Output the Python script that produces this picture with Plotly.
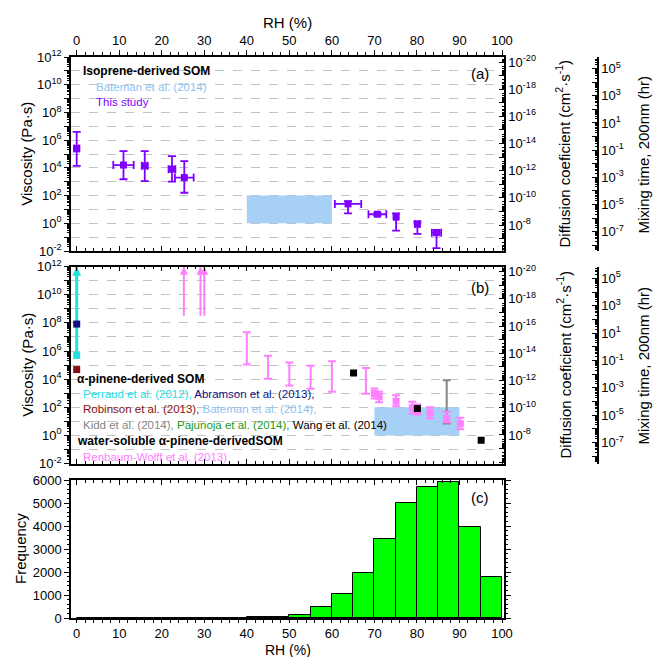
import plotly.graph_objects as go

# ---------------- data ----------------
# panel (a): isoprene-derived SOM, this study
rh_a = [0, 11, 16, 22.4, 25.3, 63.8, 70.7, 75.1, 80.1, 84.6]
rh_a_err = [0.6, 2.4, 0.7, 0.8, 2.2, 3.1, 2.1, 0.5, 0.5, 1.1]
visc_a = [2.5e5, 1.6e4, 1.4e4, 8.1e3, 2.0e3, 25, 4.5, 3.0, 0.89, 0.21]
visc_a_hi = [4.0e6, 1.6e5, 1.6e5, 7.1e4, 3.1e4, 40, 5.6, 5.2, 1.3, 0.33]
visc_a_lo = [1.4e4, 1.5e3, 1.1e3, 1.0e3, 160, 5.2, 3.6, 0.30, 0.17, 0.016]
bateman_a_rh = [40, 60]
bateman_a_visc = [1, 100]

# panel (b): alpha-pinene-derived SOM
perraud_rh = [0]
perraud_lo = [4.9e5]
perraud_top = [1e12]
abramson_rh = [0]
abramson_visc = [8.3e7]
robinson_rh = [0]
robinson_visc = [4.8e4]
bateman_b_rh = [70, 90]
bateman_b_visc = [1, 100]
kidd_rh = [87]
kidd_visc = [240]
kidd_hi = [8.3e3]
kidd_lo = [7]
wang_rh = [65.1, 80.1, 95.1]
wang_visc = [2.75e4, 81, 0.45]
# Renbaum-Wolff (water-soluble)
rw_arrow_rh = [25.2, 29.1, 30.0]
rw_arrow_lo = [3.2e8, 3.2e8, 3.2e8]
rw_arrow_top = [1e12, 1e12, 1e12]
rw_bar_rh = [40, 45, 50, 55, 60, 68]
rw_bar_c = [1.5e6, 7.0e4, 2.3e4, 1.4e4, 1.5e4, 7.6e3]
rw_bar_hi = [2.2e7, 4.7e5, 1.5e5, 9.0e4, 1.9e5, 6.3e4]
rw_bar_lo = [1.1e5, 1.05e4, 3.5e3, 2.1e3, 1.25e3, 9.0e2]
rw_pt_rh = [70, 71.1, 75.1, 78.9, 80.1, 83.1, 87, 90.2]
rw_pt_c = [955, 550, 269, 91, 62, 41, 16, 6.8]
rw_pt_hi = [2140, 1260, 724, 245, 158, 100, 48, 18]
rw_pt_lo = [417, 229, 120, 35, 31, 16, 8.7, 2.7]

# panel (c): RH frequency histogram (5 % bins)
bin_left = [0, 5, 10, 15, 20, 25, 30, 35, 40, 45, 50, 55, 60, 65, 70, 75, 80, 85, 90, 95]
bin_width = 5
freq = [0, 0, 1, 2, 3, 5, 8, 15, 25, 55, 140, 470, 1050, 1950, 3420, 4990, 5680, 5900, 3950, 1780]

rh_ticks = [0, 10, 20, 30, 40, 50, 60, 70, 80, 90, 100]
visc_exp = list(range(-2, 13))
diff_exp = list(range(-21, -4))
mix_exp = list(range(-9, 7))
freq_ticks = [0, 1000, 2000, 3000, 4000, 5000, 6000]

# ---------------- colours ----------------
PURPLE = '#7f00ff'
LBLUE = '#8cc3f3'
RECT = 'rgba(160,204,245,0.92)'
CYAN = '#22e0e0'
NAVY = '#101080'
DRED = '#861010'
GRAY = '#858585'
GREEN = '#1a9a1a'
PINK = '#ff80ff'
FONT = 'Liberation Sans, Arial, sans-serif'

W, H = 653, 657
L, R, T, B = 71, 55, 57, 39
PW, PH = W - L - R, H - T - B
XD = [0, 433 / PW]


def P(px, py):
    return (px - L) / PW, (H - B - py) / PH


ya_dom = [P(0, 251)[1], 1.0]
yb_dom = [P(0, 463.5)[1], P(0, 266.7)[1]]
yc_dom = [0.0, P(0, 480)[1]]

fig = go.Figure()


def errs(c, hi, lo):
    return [h - v for h, v in zip(hi, c)], [v - l for v, l in zip(c, lo)]

# ---- panel (a)
fig.add_trace(go.Scatter(
    x=[bateman_a_rh[0], bateman_a_rh[1], bateman_a_rh[1], bateman_a_rh[0], bateman_a_rh[0]],
    y=[bateman_a_visc[0], bateman_a_visc[0], bateman_a_visc[1], bateman_a_visc[1], bateman_a_visc[0]],
    fill='toself', fillcolor=RECT, mode='lines', line=dict(width=0),
    xaxis='x', yaxis='y', showlegend=False, hoverinfo='skip'))
pa, ma = errs(visc_a, visc_a_hi, visc_a_lo)
fig.add_trace(go.Scatter(
    x=rh_a, y=visc_a, mode='markers',
    marker=dict(symbol='square', size=7, color=PURPLE),
    error_y=dict(type='data', symmetric=False, array=pa, arrayminus=ma,
                 color=PURPLE, thickness=1.8, width=4),
    error_x=dict(type='data', array=rh_a_err, color=PURPLE, thickness=1.8, width=4),
    xaxis='x', yaxis='y', showlegend=False, cliponaxis=False))

# ---- panel (b)
fig.add_trace(go.Scatter(
    x=[bateman_b_rh[0], bateman_b_rh[1], bateman_b_rh[1], bateman_b_rh[0], bateman_b_rh[0]],
    y=[bateman_b_visc[0], bateman_b_visc[0], bateman_b_visc[1], bateman_b_visc[1], bateman_b_visc[0]],
    fill='toself', fillcolor=RECT, mode='lines', line=dict(width=0),
    xaxis='x2', yaxis='y2', showlegend=False, hoverinfo='skip'))

# Perraud arrow
for rh, lo, top in zip(perraud_rh, perraud_lo, perraud_top):
    fig.add_trace(go.Scatter(x=[rh, rh], y=[lo, top], mode='lines',
                             line=dict(color=CYAN, width=3), xaxis='x2', yaxis='y2',
                             showlegend=False))
fig.add_trace(go.Scatter(x=perraud_rh, y=perraud_top, mode='markers',
                         marker=dict(symbol='arrow-up', size=9, color=CYAN),
                         xaxis='x2', yaxis='y2', showlegend=False, cliponaxis=False))
fig.add_trace(go.Scatter(x=perraud_rh, y=perraud_lo, mode='markers',
                         marker=dict(symbol='square', size=7, color=CYAN),
                         xaxis='x2', yaxis='y2', showlegend=False, cliponaxis=False))
fig.add_trace(go.Scatter(x=abramson_rh, y=abramson_visc, mode='markers',
                         marker=dict(symbol='square', size=7, color=NAVY),
                         xaxis='x2', yaxis='y2', showlegend=False, cliponaxis=False))
fig.add_trace(go.Scatter(x=robinson_rh, y=robinson_visc, mode='markers',
                         marker=dict(symbol='square', size=7, color=DRED),
                         xaxis='x2', yaxis='y2', showlegend=False, cliponaxis=False))

# Renbaum-Wolff arrows
for rh, lo, top in zip(rw_arrow_rh, rw_arrow_lo, rw_arrow_top):
    fig.add_trace(go.Scatter(x=[rh, rh], y=[lo, top], mode='lines',
                             line=dict(color=PINK, width=2), xaxis='x2', yaxis='y2',
                             showlegend=False))
fig.add_trace(go.Scatter(x=rw_arrow_rh, y=rw_arrow_top, mode='markers',
                         marker=dict(symbol='arrow-up', size=8, color=PINK),
                         xaxis='x2', yaxis='y2', showlegend=False, cliponaxis=False))
# Renbaum-Wolff ranges
pb, mb = errs(rw_bar_c, rw_bar_hi, rw_bar_lo)
fig.add_trace(go.Scatter(x=rw_bar_rh, y=rw_bar_c, mode='markers',
                         marker=dict(symbol='circle', size=2, color=PINK),
                         error_y=dict(type='data', symmetric=False, array=pb, arrayminus=mb,
                                      color=PINK, thickness=2, width=4),
                         xaxis='x2', yaxis='y2', showlegend=False))
# Kidd
pk, mk = errs(kidd_visc, kidd_hi, kidd_lo)
fig.add_trace(go.Scatter(x=kidd_rh, y=kidd_visc, mode='markers',
                         marker=dict(symbol='circle', size=1, color=GRAY),
                         error_y=dict(type='data', symmetric=False, array=pk, arrayminus=mk,
                                      color=GRAY, thickness=2, width=4),
                         xaxis='x2', yaxis='y2', showlegend=False))
# Renbaum-Wolff points
pp, mp = errs(rw_pt_c, rw_pt_hi, rw_pt_lo)
fig.add_trace(go.Scatter(x=rw_pt_rh, y=rw_pt_c, mode='markers',
                         marker=dict(symbol='square', size=7, color=PINK),
                         error_y=dict(type='data', symmetric=False, array=pp, arrayminus=mp,
                                      color=PINK, thickness=2, width=4),
                         xaxis='x2', yaxis='y2', showlegend=False))
# Wang
fig.add_trace(go.Scatter(x=wang_rh, y=wang_visc, mode='markers',
                         marker=dict(symbol='square', size=7, color='black'),
                         xaxis='x2', yaxis='y2', showlegend=False, cliponaxis=False))

# ---- panel (c)
fig.add_trace(go.Bar(x=[b + bin_width / 2 for b in bin_left], y=freq, width=bin_width,
                     marker=dict(color='#00ff00', line=dict(color='black', width=1)),
                     xaxis='x3', yaxis='y3', showlegend=False))

# dummy traces so that the extra axes are drawn
for xa, ya in [('x4', 'y'), ('x5', 'y3'), ('x', 'y4'), ('x', 'y5'), ('x2', 'y6'), ('x2', 'y7')]:
    fig.add_trace(go.Scatter(x=[None], y=[None], xaxis=xa, yaxis=ya, showlegend=False,
                             hoverinfo='skip'))

# ---------------- axes ----------------
XR = [-1.34, 100.47]
tickfont = dict(family=FONT, size=13, color='black')


def xax(**kw):
    d = dict(range=XR, domain=XD, tickvals=rh_ticks, ticklen=5, tickwidth=1.2,
             tickcolor='black', showline=True, linecolor='black', linewidth=1.5,
             showgrid=False, zeroline=False, tickfont=tickfont, automargin=False,
             minor=dict(dtick=2, tick0=0, ticklen=3, tickcolor='black', tickwidth=1))
    d.update(kw)
    d['minor']['ticks'] = d.get('ticks', 'inside')
    return d


def sup(e):
    return '10<sup>%d</sup>' % e


def minor_vals(exps):
    out = []
    for e in exps[:-1]:
        for m in range(2, 10):
            out.append(m * 10.0 ** e)
    return out


def logax(exps, labelled, rng, ticks, grid, **kw):
    d = dict(type='log', range=rng,
             tickmode='array',
             tickvals=[10.0 ** e for e in exps],
             ticktext=[sup(e) if e in labelled else ' ' for e in exps],
             ticks=ticks, ticklen=5, tickwidth=1.2, tickcolor='black',
             showline=True, linecolor='black', linewidth=1.5, zeroline=False,
             showgrid=grid, gridcolor='#c2c2c2', griddash='dash', gridwidth=0.8,
             tickfont=tickfont, automargin=False,
             minor=dict(tickmode='array', tickvals=minor_vals(exps), ticks=ticks,
                        ticklen=2.5, tickcolor='black', tickwidth=1, showgrid=False))
    d.update(kw)
    return d


visc_lab = [-2, 0, 2, 4, 6, 8, 10, 12]
diff_lab = [-20, -18, -16, -14, -12, -10, -8]
mix_lab = [5, 3, 1, -1, -3, -5, -7]

fig.update_layout(
    width=W, height=H, margin=dict(l=L, r=R, t=T, b=B, autoexpand=False),
    paper_bgcolor='white', plot_bgcolor='white',
    font=dict(family=FONT, color='black'),
    bargap=0,
    xaxis=xax(anchor='y', side='top', ticks='outside'),
    xaxis4=xax(anchor='y', overlaying='x', side='bottom', ticks='inside', showticklabels=False),
    xaxis2=xax(anchor='y2', ticks='inside', mirror='ticks', showticklabels=False),
    xaxis3=xax(anchor='y3', ticks='outside', side='bottom', ticklen=3),
    xaxis5=xax(anchor='y3', overlaying='x3', side='top', ticks='inside', showticklabels=False),
    yaxis=logax(visc_exp, visc_lab, [-2, 12], 'outside', True, domain=ya_dom, anchor='x'),
    yaxis2=logax(visc_exp, visc_lab, [-2, 12], 'outside', True, domain=yb_dom, anchor='x2'),
    yaxis4=logax(diff_exp, diff_lab, [-6.09, -20.37], 'inside', False,
                 overlaying='y', side='right', anchor='x'),
    yaxis5=logax(mix_exp, mix_lab, [-8.42, 5.85], 'inside', False,
                 overlaying='y', side='right', anchor='free', position=1.0),
    yaxis6=logax(diff_exp, diff_lab, [-5.9, -20.37], 'inside', False,
                 overlaying='y2', side='right', anchor='x2'),
    yaxis7=logax(mix_exp, mix_lab, [-8.52, 5.85], 'inside', False,
                 overlaying='y2', side='right', anchor='free', position=1.0),
    yaxis3=dict(domain=yc_dom, anchor='x3', range=[0, 6000], tickvals=freq_ticks,
                ticks='outside', ticklen=5, tickwidth=1.2, tickcolor='black',
                mirror='ticks', showline=True, linecolor='black', linewidth=1.5,
                showgrid=False, zeroline=False, tickfont=tickfont, automargin=False,
                minor=dict(dtick=200, ticks='outside', ticklen=2.5, tickcolor='black',
                           tickwidth=1)),
)

# ---------------- text ----------------
ann = []


def text(px, py, s, size=11.5, color='black', xanchor='left', angle=0):
    x, y = P(px, py)
    ann.append(dict(x=x, y=y, xref='paper', yref='paper', text=s, showarrow=False,
                    xanchor=xanchor, yanchor='middle', textangle=angle,
                    font=dict(family=FONT, size=size, color=color)))


def span(s, c):
    return "<span style='color:%s'>%s</span>" % (c, s)

text(287.5, 22.3, 'RH (%)', 15, xanchor='center')
text(287.5, 649.5, 'RH (%)', 14, xanchor='center')
for cy in (154, 365):
    text(26.7, cy, 'Viscosity (Pa·s)', 15, xanchor='center', angle=-90)
    text(563.5, cy, 'Diffusion coeficient (cm<sup>2</sup>·s<sup>-1</sup>)', 15,
         xanchor='center', angle=-90)
    text(643, cy + 0.5, 'Mixing time, 200nm (hr)', 15, xanchor='center', angle=-90)
text(20, 549, 'Frequency', 15, xanchor='center', angle=-90)
text(480, 73.3, '(a)', 15, xanchor='center')
text(480, 287, '(b)', 15, xanchor='center')
text(480, 497, '(c)', 15, xanchor='center')

text(81, 71, '<b>Isoprene-derived SOM</b>', 12)
text(94, 87.3, 'Bateman et al. (2014)', 11.5, LBLUE)
text(94, 101.7, 'This study', 11.5, PURPLE)

text(74.5, 379, '<b>α-pinene-derived SOM</b>', 12)
text(81, 394.3, span('Perraud et al. (2012), ', CYAN) + span('Abramson et al. (2013),', NAVY))
text(81, 408.7, span('Robinson et al. (2013), ', DRED) + span('Bateman et al. (2014),', LBLUE))
text(81, 425.3, span('Kidd et al. (2014), ', GRAY) + span('Pajunoja et al. (2014), ', GREEN)
     + span('Wang et al. (2014)', 'black'))
text(74.5, 441, '<b>water-soluble α-pinene-derivedSOM</b>', 12)
text(81, 456.7, 'Renbaum-Wolff et al. (2013)', 11.5, PINK)

fig.update_layout(annotations=ann)
fig.write_html('out.html', config={'displayModeBar': False},
               post_script="document.body.style.margin='0';document.body.style.padding='0';")
